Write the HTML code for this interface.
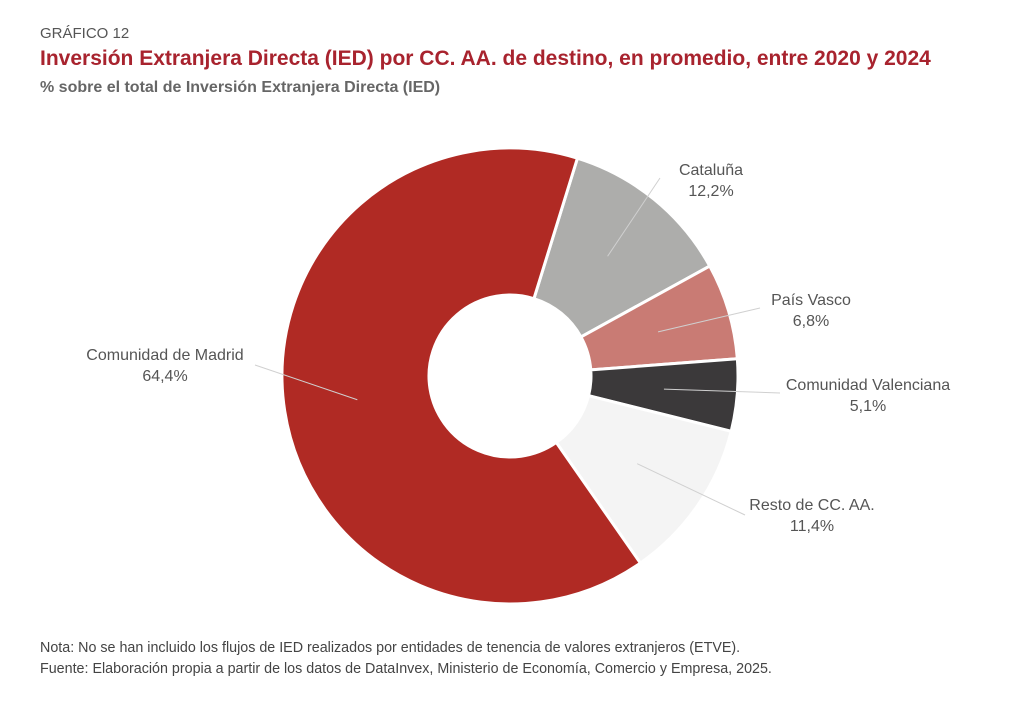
<!DOCTYPE html>
<html><head><meta charset="utf-8"><style>
body{margin:0;background:#fff;font-family:"Liberation Sans",sans-serif;}
.wrap{position:relative;width:1034px;height:717px;overflow:hidden;}
.t{position:absolute;white-space:nowrap;}
</style></head><body>
<div class="wrap">
<div class="t" style="left:40px;top:25px;font-size:15px;color:#555;">GRÁFICO 12</div>
<div class="t" style="left:40px;top:47px;font-size:21px;font-weight:bold;color:#a8232e;">Inversión Extranjera Directa (IED) por CC. AA. de destino, en promedio, entre 2020 y 2024</div>
<div class="t" style="left:40px;top:79px;font-size:16px;font-weight:bold;color:#666;">% sobre el total de Inversión Extranjera Directa (IED)</div>
<svg id="svg" width="1034" height="717" style="position:absolute;left:0;top:0"></svg>
<div class="t" style="left:40px;top:640px;font-size:14.3px;color:#444;">Nota: No se han incluido los flujos de IED realizados por entidades de tenencia de valores extranjeros (ETVE).</div>
<div class="t" style="left:40px;top:661px;font-size:14.3px;color:#444;">Fuente: Elaboración propia a partir de los datos de DataInvex, Ministerio de Economía, Comercio y Empresa, 2025.</div>
</div>
<script>
const categories=["Cataluña","País Vasco","Comunidad Valenciana","Resto de CC. AA.","Comunidad de Madrid"];
const values=[12.2,6.8,5.1,11.4,64.4];
const valueLabels=["12,2%","6,8%","5,1%","11,4%","64,4%"];
const colors=["#adadab","#c97b74","#3b393a","#f4f4f4","#b02a24"];
const labelPos=[[711,170,"middle"],[811,300,"middle"],[868,385,"middle"],[812,505,"middle"],[165,355,"middle"]];
const lineEnd=[[660,178],[760,308],[780,393],[745,515],[255,365]];
const NS="http://www.w3.org/2000/svg";
const svg=document.getElementById('svg');
const cx=510,cy=376,R=228,r=81,start=17.2;
const total=values.reduce((a,b)=>a+b,0);
function pt(a,rad){const t=(a-90)*Math.PI/180;return [cx+rad*Math.cos(t),cy+rad*Math.sin(t)];}
let a0=start;
values.forEach((v,i)=>{
 const a1=a0+v/total*360;const big=(a1-a0)>180?1:0;
 const p1=pt(a0,R),p2=pt(a1,R),p3=pt(a1,r),p4=pt(a0,r);
 const p=document.createElementNS(NS,'path');
 p.setAttribute('d',`M${p1}A${R},${R} 0 ${big} 1 ${p2}L${p3}A${r},${r} 0 ${big} 0 ${p4}Z`);
 p.setAttribute('fill',colors[i]);p.setAttribute('stroke','#fff');p.setAttribute('stroke-width','3');
 
 
 svg.appendChild(p);
 const mid=(a0+a1)/2;const m=pt(mid,(R+r)/2);
 const l=document.createElementNS(NS,'line');
 l.setAttribute('x1',m[0]);l.setAttribute('y1',m[1]);l.setAttribute('x2',lineEnd[i][0]);l.setAttribute('y2',lineEnd[i][1]);
 l.setAttribute('stroke','#d0d0d0');l.setAttribute('stroke-width','1');
 
 
 svg.appendChild(l);
 [categories[i],valueLabels[i]].forEach((s,k)=>{
  const t=document.createElementNS(NS,'text');
  t.setAttribute('x',labelPos[i][0]);t.setAttribute('y',labelPos[i][1]+k*21+5);
  t.setAttribute('text-anchor',labelPos[i][2]);t.setAttribute('font-size','16');t.setAttribute('fill','#555');
  t.setAttribute('font-family','Liberation Sans, sans-serif');
  
  
  t.textContent=s;svg.appendChild(t);
 });
 a0=a1;
});
</script>
</body></html>
